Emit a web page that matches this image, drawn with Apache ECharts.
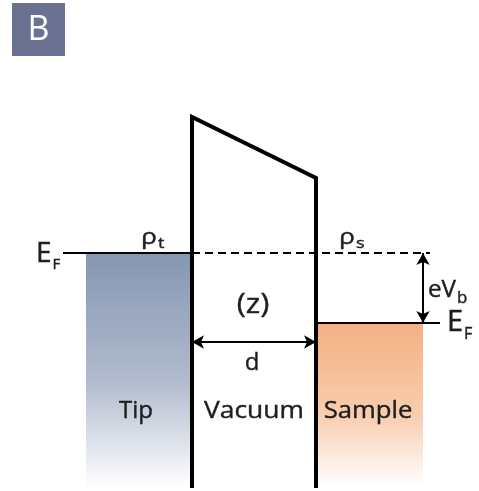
<!DOCTYPE html>
<html>
<head>
<meta charset="utf-8">
<script src="https://cdn.jsdelivr.net/npm/echarts@6/dist/echarts.min.js"></script>
<style>
html,body{margin:0;padding:0;background:#fff;}
#chart{width:479px;height:491px;}
</style>
</head>
<body>
<div id="chart"></div>
<script>
// Diagram coordinates (x: position across tip / vacuum / sample, y: energy, downward)
const barrierX = [192, 192, 316, 316];
const barrierY = [488, 117, 178, 488];
const tipFermiX = [63, 192];
const tipFermiY = 253;
const dashedX = [192, 430];
const sampleFermiX = [316, 440];
const sampleFermiY = 323;
const tipBand = [86, 192, 253, 488];      // x0, x1, yTop, yBottom
const sampleBand = [316, 423, 323, 488];
const biasArrow = [423, 253, 323];        // x, y0, y1
const gapArrow = [342, 192, 316];         // y, x0, x1

// Text labels: main text and subscript
const labelMain = ['E', 'ρ', 'ρ', 'eV', 'E', '(z)', 'd', 'Tip', 'Vacuum', 'Sample'];
const labelSub  = ['F', 't', 's', 'b', 'F', '', '', '', '', ''];
const labelX = [36, 141, 339, 428, 447, 253, 252, 136, 254, 368];
const labelY = [254, 238, 238, 290.5, 322.5, 305, 363.5, 411, 411, 411];

const labelSize  = [28, 22, 22, 23, 29, 28, 24, 24, 24, 24];
const subSize    = [15, 15, 15, 16, 16, 0, 0, 0, 0, 0];
const subDrop    = [21, 12, 12, 16, 23, 0, 0, 0, 0, 0];
const labelScale = [1, 1.2, 1.2, 1.05, 1, 1.1, 1.0, 1.0, 1.1, 1.07];

const chart = echarts.init(document.getElementById('chart'), null, {renderer: 'canvas'});

function bandSeries(band, topColor, midColor) {
  return {
    type: 'custom',
    silent: true,
    z: 1,
    data: [band],
    renderItem: function (params, api) {
      const p0 = api.coord([api.value(0), api.value(2)]);
      const p1 = api.coord([api.value(1), api.value(3)]);
      return {
        type: 'rect',
        shape: {x: p0[0], y: p0[1], width: p1[0] - p0[0], height: p1[1] - p0[1]},
        style: {
          fill: new echarts.graphic.LinearGradient(0, 0, 0, 1, [
            {offset: 0, color: topColor},
            {offset: 0.55, color: midColor},
            {offset: 1, color: '#ffffff'}
          ])
        }
      };
    }
  };
}

function lineSeries(xs, ys, width, type) {
  return {
    type: 'line',
    silent: true,
    z: 5,
    symbol: 'none',
    data: xs.map((x, i) => [x, ys[i]]),
    lineStyle: {color: '#000', width: width, type: type || 'solid', cap: 'butt', join: 'miter'},
    animation: false
  };
}

const labelData = labelMain.map((t, i) => [labelX[i], labelY[i], i]);
const textColor = '#1e1e1e';

const option = {
  animation: false,
  backgroundColor: '#ffffff',
  grid: {left: 0, right: 0, top: 0, bottom: 0},
  xAxis: {type: 'value', min: 0, max: 479, show: false},
  yAxis: {type: 'value', min: 0, max: 491, inverse: true, show: false},
  graphic: [
    {type: 'rect', left: 12, top: 3, shape: {width: 53, height: 53}, style: {fill: '#6b7190'}},
    {type: 'text', x: 38.5, y: 30, style: {text: 'B', fill: '#ffffff', fontFamily: 'Open Sans', fontSize: 34, align: 'center', verticalAlign: 'middle'}}
  ],
  series: [
    bandSeries(tipBand, '#8596b3', '#b2bbce'),
    bandSeries(sampleBand, '#f3b083', '#f8cdae'),
    lineSeries(tipFermiX, [tipFermiY, tipFermiY], 2),
    lineSeries(dashedX, [tipFermiY, tipFermiY], 2, [8, 5]),
    lineSeries(sampleFermiX, [sampleFermiY, sampleFermiY], 2),
    lineSeries(barrierX, barrierY, 4),
    {
      type: 'line', silent: true, symbol: 'none', data: [], z: 6,
      markLine: {
        silent: true, symbol: ['arrow', 'arrow'], symbolSize: [10, 12],
        label: {show: false},
        lineStyle: {color: '#000', width: 2, type: 'solid'},
        emphasis: {disabled: true},
        data: [
          [{coord: [biasArrow[0], biasArrow[1]]}, {coord: [biasArrow[0], biasArrow[2]]}],
          [{coord: [gapArrow[1], gapArrow[0]]}, {coord: [gapArrow[2], gapArrow[0]]}]
        ]
      }
    },
    {
      type: 'custom', silent: true, z: 10,
      data: labelData,
      renderItem: function (params, api) {
        const i = api.value(2);
        const p = api.coord([api.value(0), api.value(1)]);
        const size = labelSize[i];
        const sub = labelSub[i];
        const text = sub ? '{m|' + labelMain[i] + '}{s|' + sub + '}' : labelMain[i];
        return {
          type: 'text',
          x: p[0], y: p[1],
          scaleX: labelScale[i],
          style: {
            text: text,
            fill: textColor,
            stroke: textColor,
            lineWidth: 0.4,
            fontFamily: 'Open Sans',
            fontSize: size,
            align: sub ? 'left' : 'center',
            verticalAlign: 'middle',
            rich: {
              m: {fontFamily: 'Open Sans', fontSize: size, fill: textColor, stroke: textColor, lineWidth: 0.4},
              s: {fontFamily: 'Open Sans', fontSize: subSize[i] || 12, fill: textColor, stroke: textColor, lineWidth: 0.4, padding: [subDrop[i], 0, 0, 1]}
            }
          }
        };
      }
    }
  ]
};
chart.setOption(option);
</script>
</body>
</html>
